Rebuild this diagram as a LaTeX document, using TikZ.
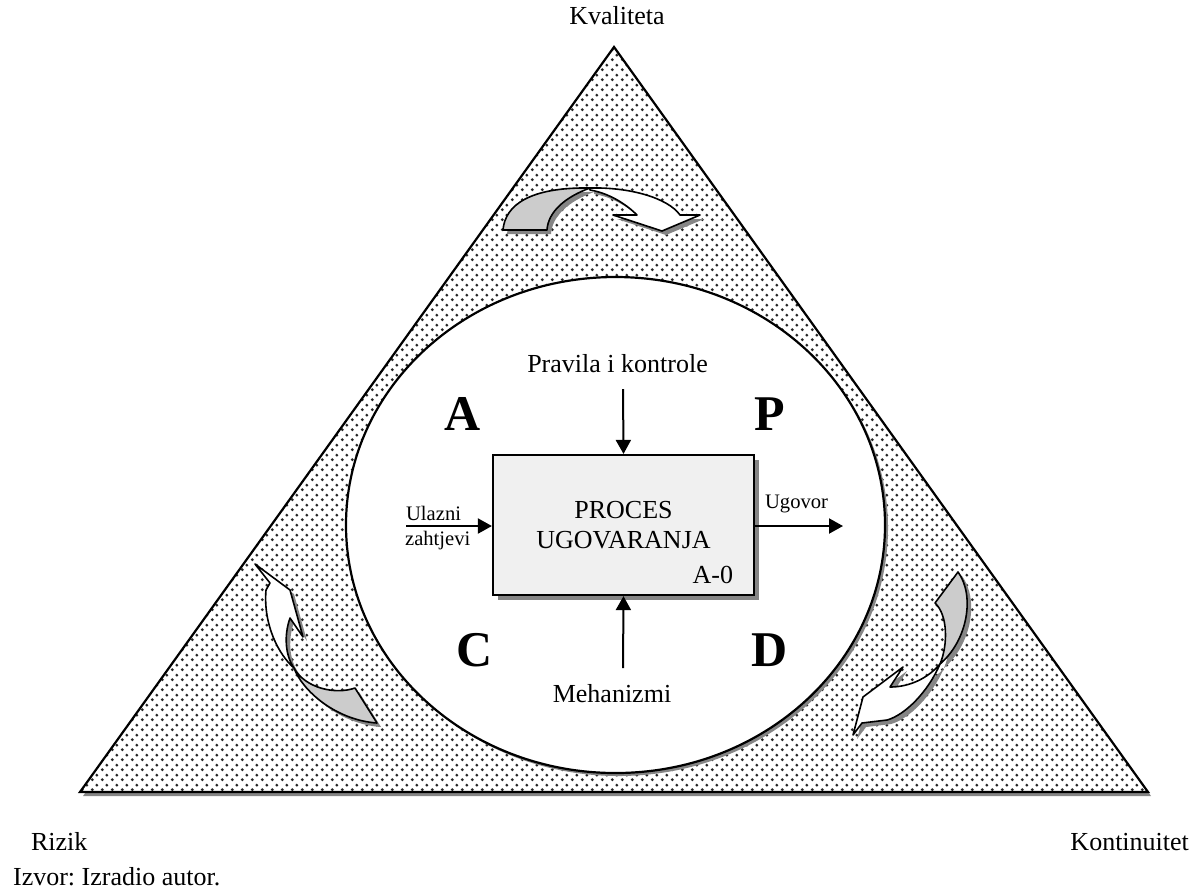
\documentclass[tikz,border=0pt]{standalone}
\usepackage{fontspec}
\setmainfont{Liberation Serif}
\usetikzlibrary{patterns, arrows.meta, shadows}
\definecolor{g1}{gray}{0.94}
\definecolor{g3}{gray}{0.80}
\definecolor{g5}{gray}{0.52}
\frenchspacing

% staggered dot raster for the triangle
\pgfdeclarepatternformonly{dotgrid}{\pgfpointorigin}{\pgfpoint{5pt}{5pt}}{\pgfpoint{5pt}{5pt}}{%
  \pgfpathcircle{\pgfpoint{1.25pt}{1.25pt}}{0.85pt}%
  \pgfpathcircle{\pgfpoint{3.75pt}{3.75pt}}{0.85pt}%
  \pgfusepath{fill}}

\begin{document}
\begin{tikzpicture}[x=0.5pt, y=-0.5pt, line width=1.1pt,
  lab/.style={font=\fontsize{13}{15}\selectfont, anchor=base, inner sep=0pt},
  small/.style={font=\fontsize{10.3}{12}\selectfont, anchor=base west, inner sep=0pt},
  corner/.style={font=\fontsize{25}{30}\selectfont\bfseries, anchor=base, inner sep=0pt},
  flow/.style={line width=1pt, -{Triangle[length=7pt, width=7.5pt]}},
  shade/.style={fill=g5},
  ribbon/.style={line width=0.8pt, line join=round}]
  \useasboundingbox (0,0) rectangle (1197,891);

  \def\tri{(614,47) -- (1148,792) -- (80,792) -- cycle}
  % curved arrows: grey back face and white face with the head
  \def\upg{(503,230) .. controls (505,205) and (530,187) .. (590,188) .. controls (565,197) and (548,212) .. (547,230) -- cycle}
  \def\upw{(590,188) .. controls (630,187) and (668,198) .. (680,215) -- (700,215) -- (662,231) -- (613,215) -- (637,215) .. controls (625,203) and (608,193) .. (590,190) -- cycle}
  \def\lfw{(255,564) -- (290,590) -- (303,637) -- (290,618) .. controls (284,635) and (285,655) .. (294,668) .. controls (279,655) and (263,625) .. (266,590) -- (270,583) -- cycle}
  \def\lfg{(294,668) .. controls (302,690) and (335,720) .. (377,723) -- (355,688) .. controls (335,695) and (305,688) .. (294,668) -- cycle}
  \def\rtg{(958,572) .. controls (975,595) and (968,640) .. (940,664) .. controls (948,645) and (948,615) .. (935,603) -- cycle}
  \def\rtw{(940,664) .. controls (928,678) and (910,687) .. (890,687) -- (903,667) -- (863,697) -- (853,735) -- (862,723) -- (887,720) .. controls (905,715) and (928,692) .. (940,664) -- cycle}

  \fill[shade, shift={(3,4)}] \tri;
  \fill[white] \tri;
  \fill[pattern=dotgrid, pattern color=black!85] \tri;
  \draw[line join=miter] \tri;

  \fill[shade, shift={(4,4)}] \upg \upw;
  \fill[shade, shift={(4,4)}] \lfg \lfw;
  \fill[shade, shift={(4,4)}] \rtg \rtw;
  \filldraw[ribbon, fill=g3] \upg;
  \filldraw[ribbon, fill=white] \upw;
  \filldraw[ribbon, fill=white] \lfw;
  \filldraw[ribbon, fill=g3] \lfg;
  \filldraw[ribbon, fill=g3] \rtg;
  \filldraw[ribbon, fill=white] \rtw;

  \fill[shade] (618.5,528) ellipse [x radius=269.5, y radius=248];
  \filldraw[fill=white] (615.5,525) ellipse [x radius=269.5, y radius=248];

  \node[draw, fill=g1, minimum width=130.5pt, minimum height=70pt, align=center,
        font=\fontsize{13}{15}\selectfont,
        drop shadow={shadow xshift=2.5pt, shadow yshift=-2.5pt, fill=g5, opacity=1}]
        (box) at (623.5,525) {PROCES\\UGOVARANJA};
  \node[lab, anchor=base east] (code) at ([xshift=-10.5pt, yshift=6.5pt]box.south east) {A-0};

  \node[lab] (rules) at (617.5,372) {Pravila i kontrole};
  \node[lab] (mech) at (612,702) {Mehanizmi};
  \coordinate (rulesend) at (623,389);
  \coordinate (mechend) at (623,668);
  \coordinate (inend) at (406,526);
  \coordinate (outend) at (843,526);
  \draw[flow] (rulesend) -- (box.north);
  \draw[flow] (mechend) -- (box.south);
  \draw[flow] (inend) -- (inend -| box.west);
  \draw[flow] (box.east |- outend) -- (outend);

  \node[small] (inlab) at (405,520.5) {Ulazni};
  \node[small] (inlabb) at (404,545) {zahtjevi};
  \node[small] (outlab) at (764,508) {Ugovor};

  \node[corner] (cA) at (462.5,430) {A};
  \node[corner] (cP) at (770,430) {P};
  \node[corner] (cC) at (475,666) {C};
  \node[corner] (cD) at (769.5,666) {D};

  \node[lab] (quality) at (617,24) {Kvaliteta};
  \node[lab, anchor=base west] (risk) at (30,850) {Rizik};
  \node[lab, anchor=base east] (cont) at (1190,850) {Kontinuitet};
  \node[lab, anchor=base west] (src) at (12,885) {Izvor: Izradio autor.};
\end{tikzpicture}
\end{document}
